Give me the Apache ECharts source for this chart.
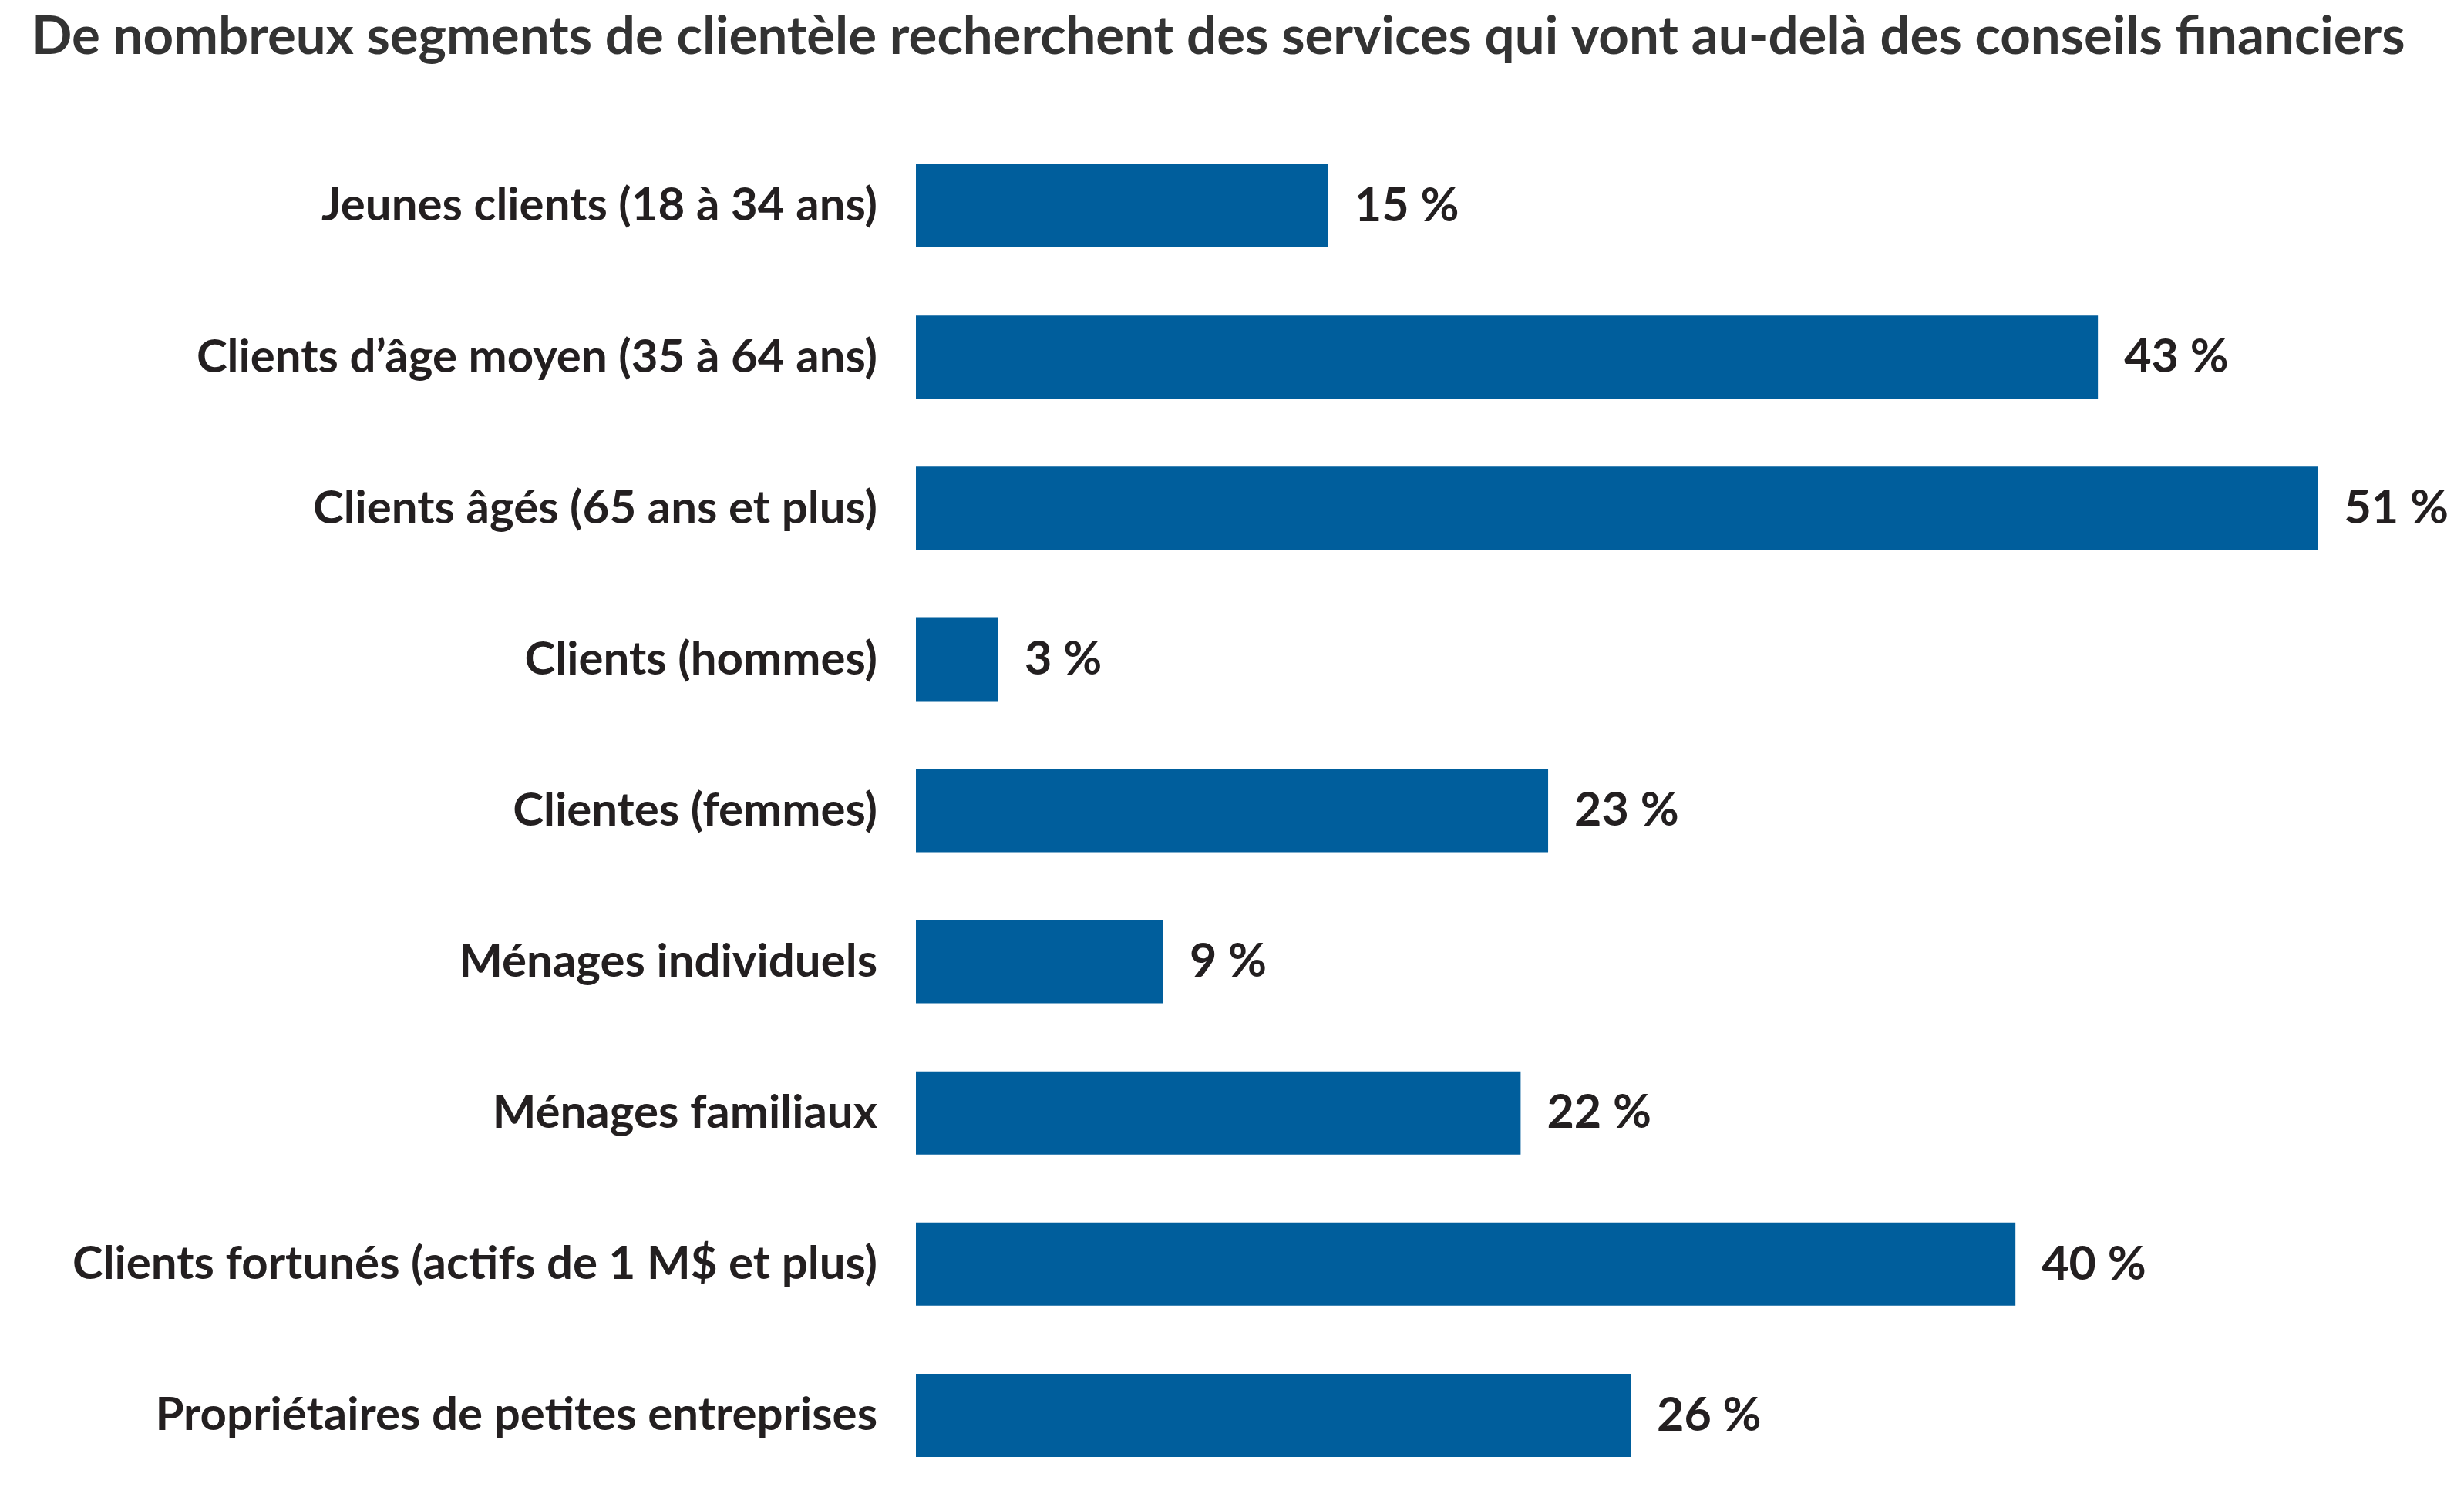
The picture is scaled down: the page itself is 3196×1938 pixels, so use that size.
<!DOCTYPE html>
<html><head><meta charset="utf-8">
<script src="https://cdn.jsdelivr.net/npm/echarts@6/dist/echarts.min.js"></script>
<style>html,body{margin:0;padding:0;background:#fff}#c{width:3196px;height:1938px}</style>
</head><body><div id="c"></div>
<script>
const titleText = "De nombreux segments de clientèle recherchent des services qui vont au-delà des conseils financiers";
const categories = [
  "Jeunes clients (18 à 34 ans)",
  "Clients d’âge moyen (35 à 64 ans)",
  "Clients âgés (65 ans et plus)",
  "Clients (hommes)",
  "Clientes (femmes)",
  "Ménages individuels",
  "Ménages familiaux",
  "Clients fortunés (actifs de 1 M$ et plus)",
  "Propriétaires de petites entreprises"
];
const values = [15, 43, 51, 3, 23, 9, 22, 40, 26];

const chart = echarts.init(document.getElementById('c'));
chart.setOption({
  backgroundColor: '#ffffff',
  animation: false,
  title: {
    text: titleText,
    left: 36, top: 8,
    textStyle: { fontFamily: 'Lato', fontWeight: 'bold', fontSize: 69, color: '#333333' }
  },
  grid: { left: 1188, right: 47, top: 169, bottom: 4, containLabel: false },
  xAxis: {
    type: 'value', min: 0, max: 55, show: false,
    splitLine: { show: false }
  },
  yAxis: {
    type: 'category', data: categories, inverse: true,
    axisLine: { show: false }, axisTick: { show: false },
    axisLabel: {
      margin: 50, fontFamily: 'Lato', fontWeight: 'bold', fontSize: 60, color: '#231f20'
    }
  },
  series: [{
    type: 'bar', data: values, barWidth: 108,
    itemStyle: { color: '#005e9c' },
    label: {
      show: true, position: 'right', distance: 34,
      formatter: p => p.value + ' %',
      fontFamily: 'Lato', fontWeight: 'bold', fontSize: 61, color: '#231f20'
    }
  }]
});
</script></body></html>
